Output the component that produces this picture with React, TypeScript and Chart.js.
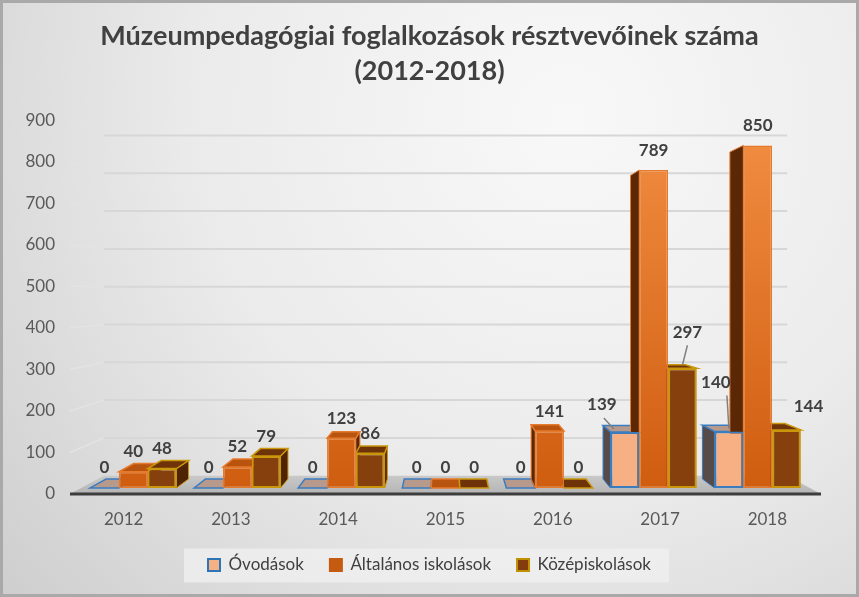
import React, { useEffect, useRef } from 'react';
import { Chart, registerables } from 'chart.js';

Chart.register(...registerables);

// ---- data ----
const TITLE_LINES = ['Múzeumpedagógiai foglalkozások résztvevőinek száma', '(2012-2018)'];
const YEARS = ['2012', '2013', '2014', '2015', '2016', '2017', '2018'];
const SERIES_NAMES = ['Óvodások', 'Általános iskolások', 'Középiskolások'];
const OVODASOK = [0, 0, 0, 0, 0, 139, 140];
const ALTALANOS = [40, 52, 123, 0, 141, 789, 850];
const KOZEPISKOLASOK = [48, 79, 86, 0, 0, 297, 144];
const Y_MIN = 0;
const Y_MAX = 900;
const Y_STEP = 100;

// ---- style ----
const FONT = 'Lato, "Open Sans", "DejaVu Sans", sans-serif';
const FRONT_COLORS = ['#f7b083', 'ORANGE_GRADIENT', '#86400e'];
const BORDER_COLORS = ['#3a7cc0', '#e67a2c', '#c9960c'];
const BORDER_WIDTHS = [2, 1.5, 2];
const SIDE_COLORS = ['#574b4a', '#5a2807', '#4f2406'];
const TOP_COLORS = ['#b89a8c', '#b9540f', '#6e3308'];
const LEGEND_FILL = ['#f4b183', '#c55a11', '#843c0c'];
const LEGEND_STROKE = ['#2e75b6', '#c55a11', '#bf9000'];

// perspective model (3-D look of the Excel chart)
const VP_VALUE = 490; // eye level, in axis units
const FRONT_K = 0.97; // bars sit slightly behind the front plane
const WALL_K = 0.91; // back wall depth
const BAR_DEPTH = 0.045; // depth of every bar

// moved data labels (dataset-category): offsets in px, optional leader line [start dx from label, end dx from bar]
const LABEL_TWEAKS: Record<string, { dx: number; dy: number; leader?: number[] }> = {
  '0-5': { dx: -23, dy: -7, leader: [2, -11] },
  '0-6': { dx: -13, dy: -29, leader: [11, 0] },
  '2-5': { dx: 5, dy: -16, leader: [0, 0] },
  '2-6': { dx: 22, dy: -3 },
};

const SERIES = [OVODASOK, ALTALANOS, KOZEPISKOLASOK];

function poly(ctx: CanvasRenderingContext2D, pts: number[][], fill: any, stroke: string, lw: number) {
  ctx.beginPath();
  ctx.moveTo(pts[0][0], pts[0][1]);
  for (let i = 1; i < pts.length; i++) ctx.lineTo(pts[i][0], pts[i][1]);
  ctx.closePath();
  ctx.fillStyle = fill;
  ctx.fill();
  if (lw > 0) {
    ctx.strokeStyle = stroke;
    ctx.lineWidth = lw;
    ctx.stroke();
  }
}

const perspectivePlugin = {
  id: 'perspective3d',
  beforeDraw(chart: any) {
    const { ctx, width, height } = chart;
    ctx.save();
    const g = ctx.createRadialGradient(width * 0.66, height * 0.2, 10, width * 0.66, height * 0.2, width * 0.95);
    g.addColorStop(0, '#f8f8f8');
    g.addColorStop(0.45, '#ebebeb');
    g.addColorStop(1, '#c8c8c8');
    ctx.fillStyle = g;
    ctx.fillRect(0, 0, width, height);
    ctx.strokeStyle = '#a9a9a9';
    ctx.lineWidth = 3;
    ctx.strokeRect(1.5, 1.5, width - 3, height - 3);
    // legend background panel
    const lg = chart.legend;
    if (lg && lg.legendHitBoxes && lg.legendHitBoxes.length) {
      const hb = lg.legendHitBoxes;
      const l = Math.min(...hb.map((h: any) => h.left));
      const r = Math.max(...hb.map((h: any) => h.left + h.width));
      const t = Math.min(...hb.map((h: any) => h.top));
      const b = Math.max(...hb.map((h: any) => h.top + h.height));
      ctx.fillStyle = 'rgba(240,240,240,0.75)';
      ctx.fillRect(l - 24, t - 8, r - l + 42, b - t + 17);
    }
    ctx.restore();
  },
  beforeDatasetsDraw(chart: any) {
    const { ctx, chartArea: ca } = chart;
    const ys = chart.scales.y;
    const vpx = (ca.left + ca.right) / 2;
    const vpy = ys.getPixelForValue(VP_VALUE);
    const proj = (x: number, y: number, k: number) => [vpx + (x - vpx) * k, vpy + (y - vpy) * k];
    ctx.save();
    // back wall gridlines
    ys.ticks.forEach((t: any) => {
      if (t.value === Y_MIN) return;
      const py = ys.getPixelForValue(t.value);
      const [bx, by] = proj(ca.left, py, WALL_K);
      const [rx] = proj(ca.right, py, WALL_K);
      ctx.strokeStyle = '#e3e3e3';
      ctx.lineWidth = 1.5;
      ctx.beginPath();
      ctx.moveTo(ca.left, py);
      ctx.lineTo(bx, by);
      ctx.stroke();
      ctx.strokeStyle = '#d7d7d7';
      ctx.lineWidth = 2;
      ctx.beginPath();
      ctx.moveTo(bx, by);
      ctx.lineTo(rx, by);
      ctx.stroke();
    });
    // floor
    const y0 = ys.getPixelForValue(Y_MIN);
    const [lbx, lby] = proj(ca.left, y0, WALL_K);
    const [rbx] = proj(ca.right, y0, WALL_K);
    const fg = ctx.createLinearGradient(0, lby, 0, y0);
    fg.addColorStop(0, '#c9c9c9');
    fg.addColorStop(1, '#b4b4b4');
    poly(ctx, [[ca.left, y0], [ca.right, y0], [rbx, lby], [lbx, lby]], fg, '', 0);
    ctx.strokeStyle = '#3d3d3d';
    ctx.lineWidth = 3;
    ctx.beginPath();
    ctx.moveTo(ca.left, y0);
    ctx.lineTo(ca.right, y0);
    ctx.stroke();
    // bar side and top faces
    chart.data.datasets.forEach((_ds: any, di: number) => {
      const meta = chart.getDatasetMeta(di);
      meta.data.forEach((bar: any) => {
        const { x, y, base, width } = bar.getProps(['x', 'y', 'base', 'width'], true);
        const l = x - width / 2;
        const r = x + width / 2;
        const top = Math.min(y, base);
        const bot = Math.max(y, base);
        const back = (px: number, py: number) => proj(px, py, 1 - BAR_DEPTH);
        if (bot - top > 0.5) {
          const sx = x < vpx ? r : l;
          poly(ctx, [[sx, top], [sx, bot], back(sx, bot), back(sx, top)], SIDE_COLORS[di], BORDER_COLORS[di], 1);
        }
        if (top > vpy) {
          poly(ctx, [[l, top], [r, top], back(r, top), back(l, top)], TOP_COLORS[di], BORDER_COLORS[di], 1.5);
        }
      });
    });
    ctx.restore();
  },
  afterDatasetsDraw(chart: any) {
    const { ctx } = chart;
    ctx.save();
    ctx.font = `bold 17px ${FONT}`;
    ctx.textAlign = 'center';
    ctx.textBaseline = 'middle';
    chart.data.datasets.forEach((_ds: any, di: number) => {
      const meta = chart.getDatasetMeta(di);
      meta.data.forEach((bar: any, i: number) => {
        const { x, y } = bar.getProps(['x', 'y'], true);
        const tw = LABEL_TWEAKS[`${di}-${i}`] || { dx: 0, dy: 0 };
        const lx = x + tw.dx;
        const ly = y - 20 + tw.dy;
        ctx.fillStyle = '#404040';
        ctx.fillText(String(SERIES[di][i]), lx, ly);
        if (tw.leader) {
          ctx.strokeStyle = '#808080';
          ctx.lineWidth = 1.5;
          ctx.beginPath();
          ctx.moveTo(lx + tw.leader[0], ly + 13);
          ctx.lineTo(x + tw.leader[1], y - 3);
          ctx.stroke();
        }
      });
    });
    ctx.restore();
  },
};

export default function App() {
  const ref = useRef<HTMLCanvasElement | null>(null);

  useEffect(() => {
    document.body.style.margin = '0';
    const canvas = ref.current;
    if (!canvas) return;

    let orangeGrad: any = null;
    const orangeFill = (c: any) => {
      const a = c.chart.chartArea;
      if (!a) return '#d2600f';
      if (!orangeGrad) {
        orangeGrad = c.chart.ctx.createLinearGradient(0, a.top, 0, a.bottom);
        orangeGrad.addColorStop(0, '#f28e42');
        orangeGrad.addColorStop(1, '#cf5c0f');
      }
      return orangeGrad;
    };

    const yMinBars = -((1 - FRONT_K) * VP_VALUE) / FRONT_K;
    const yMaxBars = yMinBars + (Y_MAX - Y_MIN) / FRONT_K;
    const half = (YEARS.length - 1) / 2;

    const datasets = SERIES.map((vals, di) => ({
      label: SERIES_NAMES[di],
      data: vals.map((v, i) => ({ x: i, y: v })),
      xAxisID: 'xb',
      yAxisID: 'yb',
      backgroundColor: FRONT_COLORS[di] === 'ORANGE_GRADIENT' ? orangeFill : FRONT_COLORS[di],
      borderColor: BORDER_COLORS[di],
      borderWidth: BORDER_WIDTHS[di],
      borderSkipped: false,
      categoryPercentage: 0.83,
      barPercentage: 1,
    }));

    const tickFont = { family: FONT, size: 17 };

    const chart = new Chart(canvas, {
      type: 'bar',
      data: { labels: YEARS, datasets: datasets as any },
      plugins: [perspectivePlugin as any],
      options: {
        responsive: false,
        animation: false,
        devicePixelRatio: 1,
        events: [],
        layout: { padding: { left: 0, right: 0, top: 0, bottom: 13.5 } },
        scales: {
          x: {
            type: 'category',
            position: 'bottom',
            offset: true,
            grid: { display: false, drawTicks: false },
            border: { display: false },
            ticks: { font: tickFont, color: '#595959', padding: 15 },
            afterFit: (s: any) => {
              s.height = 36.5;
            },
          },
          y: {
            type: 'linear',
            position: 'left',
            min: Y_MIN,
            max: Y_MAX,
            grid: { display: false, drawTicks: false },
            border: { display: false },
            ticks: { stepSize: Y_STEP, font: tickFont, color: '#595959', padding: 15 },
            afterFit: (s: any) => {
              s.width = 70;
            },
          },
          xb: {
            type: 'linear',
            display: false,
            offset: false,
            position: 'bottom',
            min: half - (half + 0.5) / FRONT_K,
            max: half + (half + 0.5) / FRONT_K,
          },
          yb: {
            type: 'linear',
            display: true,
            position: 'right',
            min: yMinBars,
            max: yMaxBars,
            grid: { display: false, drawTicks: false },
            border: { display: false },
            ticks: { display: false },
            afterFit: (s: any) => {
              s.width = 38;
            },
          },
        } as any,
        plugins: {
          title: {
            display: true,
            text: TITLE_LINES,
            color: '#404040',
            font: { family: FONT, size: 27, weight: 'bold', lineHeight: 1.3 },
            padding: { top: 19, bottom: 31 },
          },
          legend: {
            display: true,
            position: 'bottom',
            labels: {
              font: { family: FONT, size: 17 },
              color: '#404040',
              boxWidth: 12,
              boxHeight: 12,
              padding: 26,
              generateLabels: (c: any) => {
                const items = (Chart as any).defaults.plugins.legend.labels.generateLabels(c);
                return items.map((it: any, i: number) => ({
                  ...it,
                  fillStyle: LEGEND_FILL[i],
                  strokeStyle: LEGEND_STROKE[i],
                  lineWidth: 2,
                }));
              },
            },
          },
          tooltip: { enabled: false },
        },
      } as any,
    });

    return () => {
      chart.destroy();
    };
  }, []);

  return (
    <div style={{ width: 859, height: 597 }}>
      <canvas ref={ref} width={859} height={597} style={{ display: 'block' }} />
    </div>
  );
}
